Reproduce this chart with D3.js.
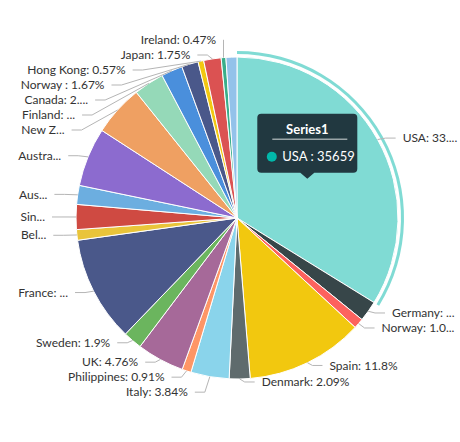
<!DOCTYPE html>
<html><head><meta charset="utf-8">
<script src="https://cdn.jsdelivr.net/npm/d3@7"></script>
<style>html,body{margin:0;padding:0;background:#fff;} svg{display:block;}</style>
</head><body>
<svg id="chart" width="460" height="442"></svg>
<script>
// ---- data ----
const categories = ["USA","Germany","Norway","Spain","Denmark","Italy","Philippines","UK","Sweden","France","Belgium","Singapore","Austria","Australia","New Zealand","Finland","Canada","Norway ","Hong Kong","Japan","Ireland","Others"];
const values = [35659,2173,1087,12449,2205,4051,960,5022,2004,11183,1118,2638,2004,6225,5380,3218,2258,1762,601,1846,496,1161];
const colors = ["#01B8AA","#374649","#FD625E","#F2C80F","#5F6B6D","#8AD4EB","#FE9666","#A66999","#6BB55E","#4A588A","#E9C43A","#CF4A42","#6CAEE0","#8C6BCF","#EFA062","#95D9B8","#4A8FDC","#4A588A","#F2C811","#DB5252","#3AAE8A","#93C2EA"];
const seriesName = "Series1";
const hiddenLabels = ["Others"];
const highlighted = "USA";

// ---- layout ----
const W = 460, H = 442;
const cx = 237, cy = 218, r = 161;
const SP = 15, TOP = 40, LEFT_BOUND = 18, RIGHT_BOUND = 458;
const FONT = "Lato, 'Open Sans', sans-serif";
const LABEL_SIZE = 12;

const svg = d3.select("#chart");
const data = categories.map((c, i) => ({name: c, value: values[i], color: colors[i]}));
const total = d3.sum(values);
const pie = d3.pie().sort(null).value(d => d.value).startAngle(0).endAngle(2 * Math.PI);
const arcs = pie(data);
const arc = d3.arc().innerRadius(0).outerRadius(r);

const g = svg.append("g").attr("transform", `translate(${cx},${cy})`);
g.selectAll("path.slice").data(arcs).join("path")
  .attr("class", "slice")
  .attr("d", arc)
  .attr("fill", d => d.data.color)
  .attr("fill-opacity", d => d.data.name === highlighted ? 0.5 : 1)
  .attr("stroke", "#fff").attr("stroke-width", 1);

// highlight ring
const hl = arcs.find(a => a.data.name === highlighted);
g.append("path")
  .attr("d", d3.arc().innerRadius(r + 3).outerRadius(r + 6)(hl))
  .attr("fill", hl.data.color).attr("fill-opacity", 0.5);

// ---- labels ----
const pctText = v => (Math.round(v / total * 10000) / 100).toString();
const labels = arcs.filter(a => !hiddenLabels.includes(a.data.name)).map(a => {
  const th = (a.startAngle + a.endAngle) / 2;
  const s = Math.sin(th), c = Math.cos(th);
  return {a, s, side: s >= 0 ? 1 : -1, ex: cx + r * s, ey: cy - r * c, ty: cy - (r + 3) * c,
          text: `${a.data.name}: ${pctText(a.data.value)}%`};
});

function resolve(list) {
  const top = list.filter(l => l.ty < cy).sort((p, q) => q.ty - p.ty);
  let prev = Infinity;
  top.forEach(l => { l.y = Math.min(l.ty, prev - SP); prev = l.y; });
  top.sort((p, q) => p.y - q.y);
  let p2 = -Infinity;
  top.forEach(l => { l.y = Math.max(l.y, TOP, p2 + SP); p2 = l.y; });
  const bot = list.filter(l => l.ty >= cy).sort((p, q) => p.ty - q.ty);
  let p3 = top.length ? top[top.length - 1].y : -Infinity;
  bot.forEach(l => { l.y = Math.max(l.ty, p3 + SP); p3 = l.y; });
}
resolve(labels.filter(l => l.side > 0));
resolve(labels.filter(l => l.side < 0));

const A = 198, B = 179;
labels.forEach(l => {
  let dx = Math.abs(l.ex - cx) + 22 + 9 * Math.pow(l.s, 8);
  if (l.y < cy && Math.abs(l.y - l.ty) > 1) {
    const t = (l.y - cy) / B;
    dx = A * Math.sqrt(Math.max(0, 1 - t * t));
  }
  l.tx = cx + l.side * dx;
  l.lx = l.tx - l.side * 7;
  l.bx = l.side > 0 ? Math.max(l.ex, l.lx - 10) : Math.min(l.ex, l.lx + 10);
});

const lg = svg.append("g");
lg.selectAll("path").data(labels).join("path")
  .attr("d", l => `M${l.ex},${l.ey}L${l.bx},${l.y}L${l.lx},${l.y}`)
  .attr("fill", "none").attr("stroke", "#b5b5b5").attr("stroke-width", 1);

const tg = svg.append("g");
tg.selectAll("text").data(labels).join("text")
  .attr("x", l => l.tx).attr("y", l => l.y).attr("dy", "0.35em")
  .attr("text-anchor", l => l.side > 0 ? "start" : "end")
  .attr("font-family", FONT).attr("font-size", LABEL_SIZE).attr("fill", "#333")
  .text(l => l.text)
  .each(function(l) {
    const avail = l.side > 0 ? RIGHT_BOUND - l.tx : l.tx - LEFT_BOUND;
    const el = d3.select(this);
    const full = l.text;
    if (this.getComputedTextLength() > avail) {
      let n = full.length;
      while (n > 0) {
        n--;
        el.text(full.slice(0, n) + "...");
        if (this.getComputedTextLength() <= avail) break;
      }
    }
  });

// ---- tooltip ----
const [tcx, tcy] = arc.centroid(hl);
const tipX = cx + tcx, tipY = cy + tcy;
const tw = 100, th = 59, ah = 6, aw = 7, rr = 4;
const bx = tipX - tw / 2, by = tipY - ah - th;
const tip = svg.append("g");
tip.append("path")
  .attr("d", `M${bx + rr},${by}H${bx + tw - rr}Q${bx + tw},${by} ${bx + tw},${by + rr}V${by + th - rr}Q${bx + tw},${by + th} ${bx + tw - rr},${by + th}H${tipX + aw}L${tipX},${tipY}L${tipX - aw},${by + th}H${bx + rr}Q${bx},${by + th} ${bx},${by + th - rr}V${by + rr}Q${bx},${by} ${bx + rr},${by}Z`)
  .attr("fill", "#213840");
tip.append("text").attr("x", tipX).attr("y", by + 16).attr("dy", "0.35em")
  .attr("text-anchor", "middle").attr("font-family", FONT).attr("font-weight", "bold")
  .attr("font-size", 13).attr("fill", "#fff").text(seriesName);
tip.append("line").attr("x1", bx + 15).attr("x2", bx + tw - 10).attr("y1", by + 25.5).attr("y2", by + 25.5)
  .attr("stroke", "#9aa5a8").attr("stroke-width", 1.5);
tip.append("circle").attr("cx", bx + 14.5).attr("cy", by + 43).attr("r", 5)
  .attr("fill", hl.data.color);
tip.append("text").attr("x", bx + 25).attr("y", by + 43).attr("dy", "0.35em")
  .attr("font-family", FONT).attr("font-size", 13).attr("fill", "#fff")
  .text(`${hl.data.name} : ${hl.data.value}`);
</script>
</body></html>
